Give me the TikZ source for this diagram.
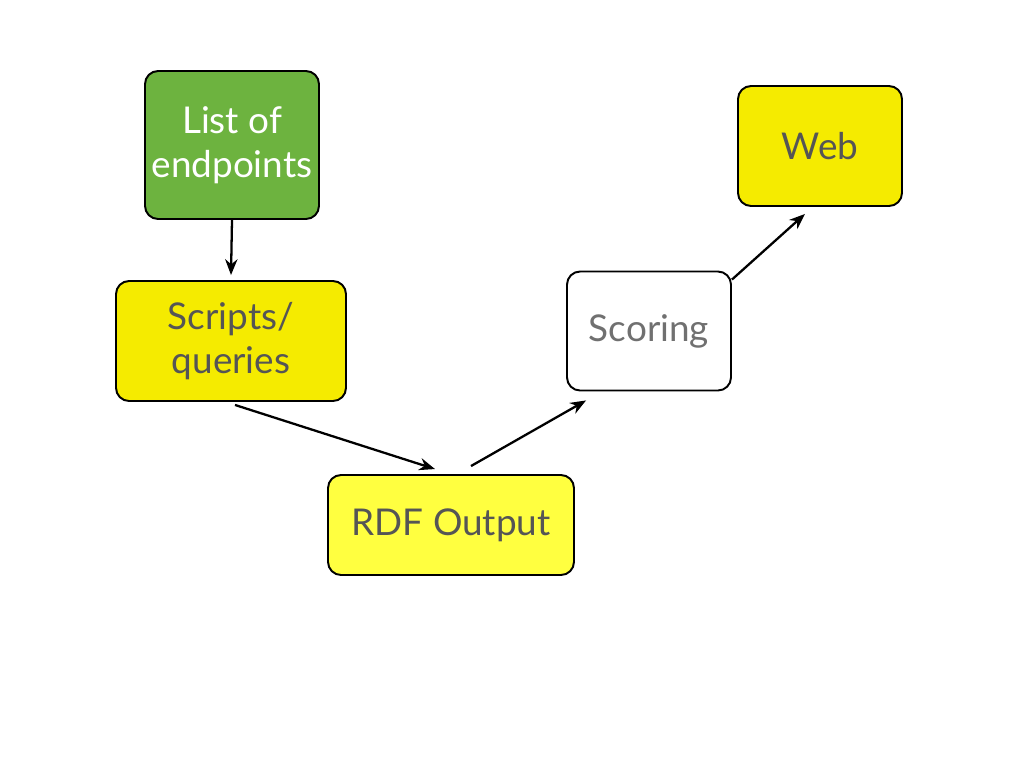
\documentclass[tikz,border=0pt]{standalone}
\usepackage{fontspec}
\setmainfont{Lato}
\usetikzlibrary{calc,arrows.meta}
\newcommand{\boxfont}{\fontsize{21}{25}\selectfont}
\definecolor{leafgreen}{HTML}{6DB33F}
\definecolor{slideyellow}{HTML}{F5EB00}
\definecolor{paleyellow}{HTML}{FFFF40}
\definecolor{darktext}{HTML}{555555}
\definecolor{lighttext}{HTML}{707070}
\def\boxround{0.26cm}

\begin{document}
\begin{tikzpicture}[x=0.02cm,y=-0.02cm,
  stepbox/.style={draw=black, line width=1.1pt, rounded corners=\boxround, align=center, text=darktext, font=\boxfont},
  arr/.style={-{Stealth[length=9pt,width=7pt]}, line width=1.3pt}]

\useasboundingbox (0,0) rectangle (1024,768);

% LIST OF ENDPOINTS
\node[stepbox, fill=leafgreen, text=white, minimum width=3.48cm, minimum height=2.96cm] (list) at (232,145) {List of\\endpoints};

% SCRIPTS
\node[stepbox, fill=slideyellow, minimum width=4.6cm, minimum height=2.4cm] (scripts) at (231,341) {Scripts/\\queries};

% RDF OUTPUT
\node[stepbox, fill=paleyellow, minimum width=4.92cm, minimum height=2cm] (rdf) at (451,525) {RDF Output};

% SCORING
\node[stepbox, fill=white, text=lighttext, minimum width=3.28cm, minimum height=2.38cm] (scoring) at (649,331) {Scoring};

% WEB
\node[stepbox, fill=slideyellow, minimum width=3.28cm, minimum height=2.4cm] (web) at (820,146) {Web};

% ARROWS
\draw[arr] (list.south) -- ($(scripts.north)+(0,-5)$);
\draw[arr] ($(scripts.south)+(4,3)$) -- ($(rdf.north)+(-16,-5)$);
\draw[arr] ($(rdf.north)+(20,-8)$) -- ($(scoring.south west)+(20,9)$);
\draw[arr] ($(scoring.north east)+(0,9)$) -- ($(web.south)+(-15,7)$);
\end{tikzpicture}
\end{document}
